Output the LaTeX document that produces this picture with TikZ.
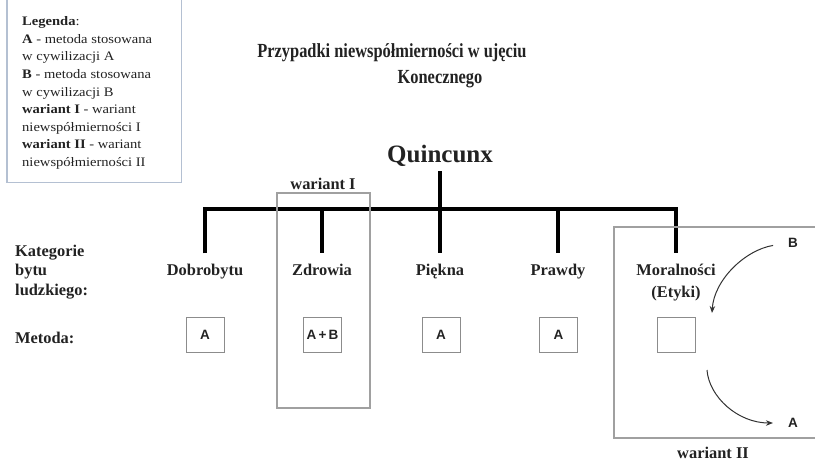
\documentclass[tikz,border=0pt]{standalone}
\usepackage{fontspec}
\setmainfont{Liberation Serif}
\newfontfamily\sansf{Liberation Sans}
\newfontfamily\titlefont[FakeStretch=0.82]{Liberation Serif}
\newfontfamily\legfont[FakeStretch=1.12]{Liberation Serif}
\usetikzlibrary{arrows.meta}
\definecolor{legbord}{HTML}{B4C0D2}
\definecolor{framegray}{HTML}{A0A0A0}
\definecolor{boxgray}{HTML}{8C8C8C}
\definecolor{txt}{HTML}{222222}
\tikzset{
  bold16/.style={font=\fontsize{16.4}{19}\selectfont\bfseries, text=txt, inner sep=0pt},
  titlestyle/.style={font=\titlefont\fontsize{20}{24}\selectfont\bfseries, text=txt, inner sep=0pt, anchor=base},
  catlab/.style={bold16, anchor=base, text height=11.5pt, text depth=3.5pt},
  tree/.style={line width=3.6pt, black, line join=miter},
  mbox/.style={draw=boxgray, line width=0.9pt, minimum width=38pt, minimum height=35pt, inner sep=0pt,
               font=\sansf\fontsize{13.5}{15}\selectfont\bfseries, text=txt},
  frame/.style={draw=framegray, line width=1.1pt},
  letter/.style={font=\sansf\fontsize{13.5}{15}\selectfont\bfseries, text=txt, inner sep=0pt},
  arr/.style={draw=black!80, line width=1pt, -{Stealth[length=7pt,width=5.5pt]}},
}
\begin{document}
\begin{tikzpicture}[x=1pt,y=-1pt]
\useasboundingbox (0,0) rectangle (815,461);
% legend
\draw[draw=legbord, line width=1.1pt] (7,-5) -- (7,182.5) -- (181.5,182.5) -- (181.5,-5);
\node[anchor=north west, align=left, inner sep=0pt, text=txt,
      font=\legfont\fontsize{13}{17.6}\selectfont] (legend) at (22,16.5)
  {\textbf{Legenda}:\\
   \textbf{A} - metoda stosowana\\
   w cywilizacji A\\
   \textbf{B} - metoda stosowana\\
   w cywilizacji B\\
   \textbf{wariant I} - wariant\\
   niewspółmierności I\\
   \textbf{wariant II} - wariant\\
   niewspółmierności II};
% title
\node[titlestyle] (t1) at (392,57) {Przypadki niewspółmierności w ujęciu};
\node[titlestyle] (t2) at (440,83) {Konecznego};
% root
\node[font=\fontsize{25}{28}\selectfont\bfseries, text=txt, inner sep=0pt, anchor=base] (q) at (440,162) {Quincunx};
% left labels
\node[bold16, anchor=base west] (k1) at (15,256) {Kategorie};
\node[bold16, anchor=base west] (k2) at (15,275) {bytu};
\node[bold16, anchor=base west] (k3) at (15,295) {ludzkiego:};
\node[bold16, anchor=base west] (met) at (15,343) {Metoda:};
% categories
\node[catlab] (c1) at (205,275) {Dobrobytu};
\node[catlab] (c2) at (322,275) {Zdrowia};
\node[catlab] (c3) at (440,275) {Piękna};
\node[catlab] (c4) at (558,275) {Prawdy};
\node[catlab] (c5) at (676,275) {Moralności};
\node[catlab] (c5b) at (676,297) {(Etyki)};
% tree
\coordinate (bar) at (440,209);
\draw[tree, shorten <=10pt, shorten >=10pt] (c1.north) -- (c1.north |- bar) -- (c5.north |- bar) -- (c5.north);
\draw[tree, shorten <=5pt, shorten >=10pt] (q.south) -- (c3.north);
\draw[tree, shorten >=10pt] (c2.north |- bar) -- (c2.north);
\draw[tree, shorten >=10pt] (c4.north |- bar) -- (c4.north);
% method boxes
\node[mbox] (m1) at (205,335) {A};
\node[mbox] (m2) at (322.5,335) {A\,+\,B};
\node[mbox] (m3) at (441,335) {A};
\node[mbox] (m4) at (558.5,335) {A};
\node[mbox] (m5) at (676,335) {};
% wariant I
\node[frame, minimum width=93pt, minimum height=215pt, inner sep=0pt] (w1) at (323.5,300.5) {};
\node[bold16, anchor=base] (w1l) at (323,189) {wariant I};
% wariant II
\draw[frame] (825,227) -- (614,227) -- (614,438) -- (825,438);
\node[bold16, anchor=base] (w2l) at (713,458) {wariant II};
% B -> box, box -> A
\node[letter] (B) at (793,243) {B};
\node[letter] (A) at (793,423) {A};
\coordinate (e1) at (712,313);
\coordinate (s2) at (707,370);
\draw[arr, shorten <=15pt] (B.west) .. controls (745,250) and (714,280) .. (e1);
\draw[arr, shorten >=15pt] (s2) .. controls (709,397) and (738,423) .. (A.west);
\end{tikzpicture}
\end{document}
